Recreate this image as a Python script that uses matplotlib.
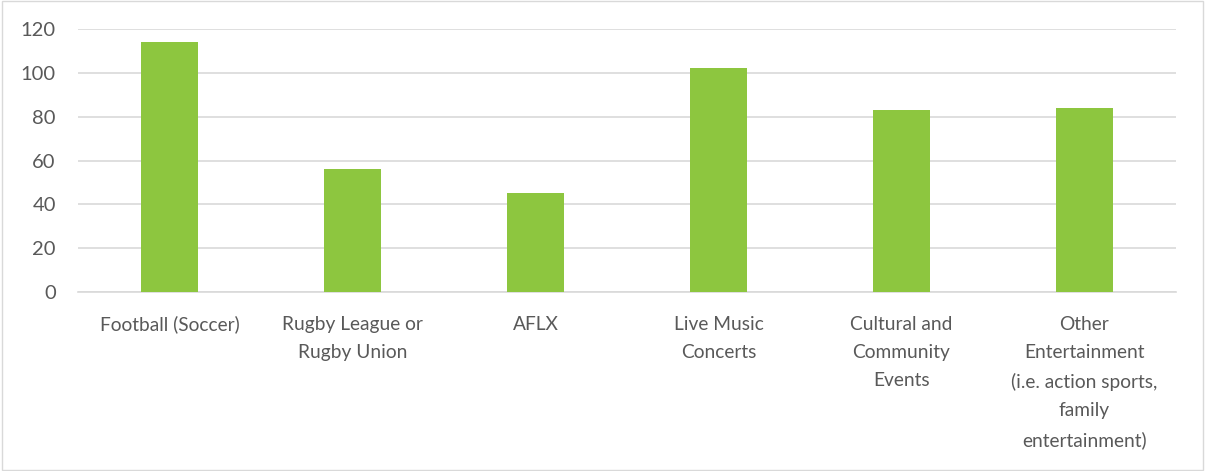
import numpy as np
import matplotlib.pyplot as plt
from matplotlib.patches import Rectangle

# 各类活动数量
categories = ["Football (Soccer)", "Rugby League or\nRugby Union", "AFLX",
              "Live Music\nConcerts", "Cultural and\nCommunity\nEvents",
              "Other\nEntertainment\n(i.e. action sports,\nfamily\nentertainment)"]
values = [114, 56, 45, 102, 83, 84]
yticks = [0, 20, 40, 60, 80, 100, 120]

plt.rcParams['font.family'] = ['Lato', 'DejaVu Sans']
text_color = "#595959"

fig = plt.figure(figsize=(12.05, 4.71), dpi=100)
ax = fig.add_axes([78/1205, 1-292/471, 1098/1205, 263/471])

x = np.arange(len(categories))
ax.bar(x, values, width=0.31, color="#8DC63F", zorder=3)

ax.set_xlim(-0.5, len(categories)-0.5)
ax.set_ylim(0, 120)
ax.set_yticks(yticks)
ax.yaxis.grid(True, color="#d9d9d9", linewidth=1.2, zorder=0)
ax.set_xticks(x)
ax.set_xticklabels(categories, linespacing=1.8, va="top")
ax.tick_params(axis="x", length=0, pad=17, labelsize=13.8, colors=text_color)
ax.tick_params(axis="y", length=0, pad=16, labelsize=14.5, colors=text_color)
for s in ["top", "right", "left"]:
    ax.spines[s].set_visible(False)
ax.spines["bottom"].set_color("#d9d9d9")
ax.spines["bottom"].set_linewidth(1.2)

# 外框
fig.patches.append(Rectangle((0.002, 0.003), 0.996, 0.994, transform=fig.transFigure,
                             fill=False, edgecolor="#d9d9d9", linewidth=1))

plt.savefig("out.png", dpi=100)
